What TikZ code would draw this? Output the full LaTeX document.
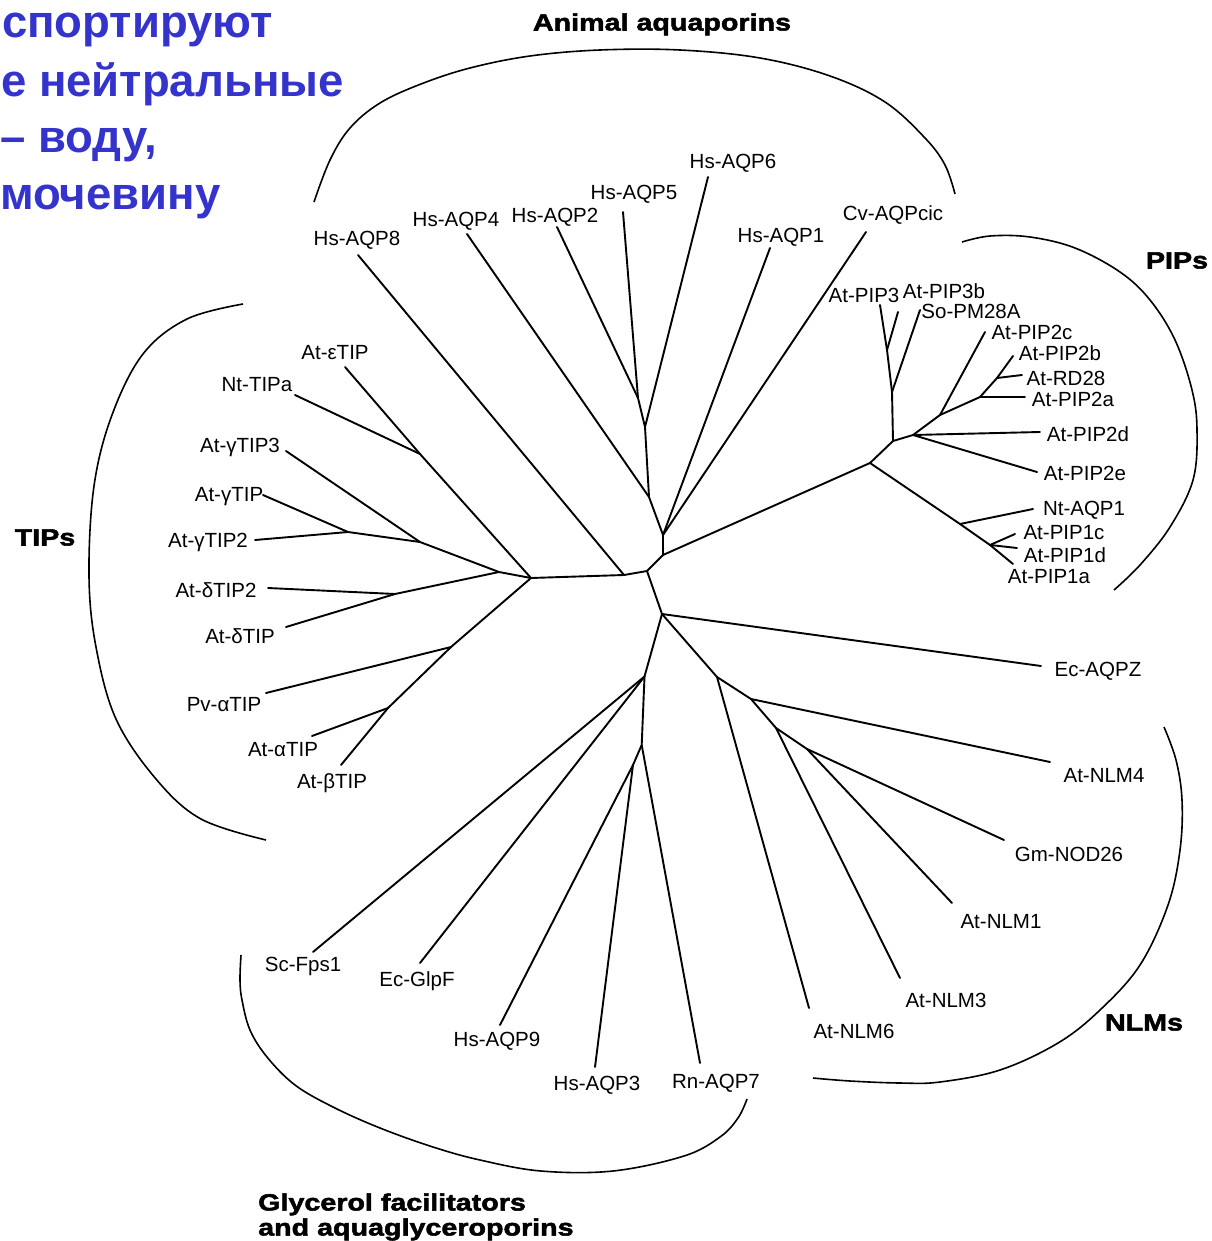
\documentclass[tikz,border=0pt]{standalone}
\usepackage{fontspec}
\setmainfont{Liberation Sans}
\newfontfamily\heavyfont{Liberation Sans Bold}[FakeStretch=1.22,FakeBold=2.2]
\newfontfamily\titlefont{Liberation Sans Bold}
\definecolor{titleblue}{RGB}{52,52,205}
\begin{document}
\begin{tikzpicture}[x=1pt,y=-1pt,
  br/.style={line width=1.9pt, line cap=round, line join=round},
  bracket/.style={line width=1.6pt},
  lab/.style={inner sep=0pt, text height=14.7pt, text depth=0pt, font=\fontsize{20.5}{24}\selectfont},
  grp/.style={inner sep=0pt, text height=17pt, text depth=0pt, font=\heavyfont\fontsize{23.5}{28}\selectfont},
  ttl/.style={inner sep=0pt, anchor=base west, text=titleblue, font=\titlefont\fontsize{45.5}{54}\selectfont}]
\useasboundingbox (0,0) rectangle (1211,1241);
\fill[white] (0,0) rectangle (1211,1241);

% title
\node[ttl] (t1) at (2,38) {спортируют};
\node[ttl] (t2) at (1,97) {е нейтральные};
\node[ttl] (t3) at (0,153) {– воду,};
\node[ttl] (t4) at (0,210) {мочевину};

% group labels
\node[grp] (gAnimal) at (662,22) {Animal aquaporins};
\node[grp] (gPIP) at (1177,260) {PIPs};
\node[grp] (gTIP) at (45,537) {TIPs};
\node[grp] (gNLM) at (1144,1022) {NLMs};
\node[grp, anchor=west] (gGly1) at (258,1202) {Glycerol facilitators};
\node[grp, anchor=west] (gGly2) at (258,1227) {and aquaglyceroporins};

% brackets
\draw[bracket] plot[smooth, tension=0.6] coordinates {(314,202) (330,160) (350,128) (380,103) (421,84) (470,68) (530,56) (600,50) (680,50) (760,58) (830,76) (885,102) (925,138) (945,165) (955,194)};
\draw[bracket] plot[smooth, tension=0.6] coordinates {(243,304) (187,319) (143,354) (112,415) (94,486) (89,576) (96,647) (116,719) (156,779) (201,819) (266,840)};
\draw[bracket] plot[smooth, tension=0.6] coordinates {(962,242) (990,236) (1030,237) (1075,248) (1120,272) (1150,300) (1175,340) (1192,390) (1197,430) (1193,480) (1170,527) (1140,565) (1114,590)};
\draw[bracket] plot[smooth, tension=0.6] coordinates {(1164,727) (1176,760) (1182,800) (1180,850) (1168,905) (1140,965) (1100,1010) (1058,1043) (1000,1070) (940,1082) (900,1083) (850,1081) (813,1078)};
\draw[bracket] plot[smooth, tension=0.6] coordinates {(241,955) (240,980) (242,1000) (250,1030) (267,1057) (295,1085) (333,1107) (380,1128) (433,1147) (480,1160) (541,1171) (613,1171) (684,1156) (720,1137) (738,1118) (747,1099)};

% internal nodes
\coordinate (C0) at (624,575);
\coordinate (C1) at (647,571);
\coordinate (C2) at (663,555);
\coordinate (N0) at (662,614);
\coordinate (A0) at (663,535);
\coordinate (A1) at (649,497);
\coordinate (A4) at (645,427);
\coordinate (A3) at (638,398);
\coordinate (P0) at (870,463);
\coordinate (P1) at (893,441);
\coordinate (P2) at (892,392);
\coordinate (P3) at (913,435);
\coordinate (P4) at (940,415);
\coordinate (P5) at (980,397);
\coordinate (P6) at (997,378);
\coordinate (P7) at (887,350);
\coordinate (Q0) at (960,524);
\coordinate (Q1) at (990,545);
\coordinate (T0) at (531,578);
\coordinate (T1) at (420,454);
\coordinate (T2) at (499,572);
\coordinate (T3) at (348,532);
\coordinate (T4) at (420,542);
\coordinate (T5) at (395,594);
\coordinate (T6) at (451,647);
\coordinate (T7) at (388,708);
\coordinate (G0) at (644.5,676.5);
\coordinate (G1) at (641.7,745);
\coordinate (G2) at (633,765);
\coordinate (M0) at (717,677);
\coordinate (M1) at (751,699);
\coordinate (M2) at (776,728);
\coordinate (M3) at (807,749);

% tips
\coordinate (xAQP8) at (358,255);
\coordinate (xAQP4) at (467,234);
\coordinate (xAQP2) at (557,227);
\coordinate (xAQP5) at (623,212);
\coordinate (xAQP6) at (708,177);
\coordinate (xAQP1) at (770,248);
\coordinate (xCv) at (866,232);
\coordinate (xPIP3) at (880,305);
\coordinate (xPIP3b) at (898,312);
\coordinate (xSo) at (920,310);
\coordinate (xPIP2c) at (985,332);
\coordinate (xPIP2b) at (1013,356);
\coordinate (xRD28) at (1022,375);
\coordinate (xPIP2a) at (1025,397);
\coordinate (xPIP2d) at (1040,432);
\coordinate (xPIP2e) at (1037,472);
\coordinate (xNtAQP1) at (1033,509);
\coordinate (xPIP1c) at (1015,534);
\coordinate (xPIP1d) at (1017,548);
\coordinate (xPIP1a) at (1013,564);
\coordinate (xEcZ) at (1041,666);
\coordinate (xNLM4) at (1050,762);
\coordinate (xNOD) at (1004,840);
\coordinate (xNLM1) at (952,903);
\coordinate (xNLM3) at (900,978);
\coordinate (xNLM6) at (809,1008);
\coordinate (xAQP7) at (700,1063);
\coordinate (xAQP3) at (595,1067);
\coordinate (xAQP9) at (500,1025);
\coordinate (xGlpF) at (420,963);
\coordinate (xFps) at (313,952);
\coordinate (xeTIP) at (345,367);
\coordinate (xTIPa) at (295,395);
\coordinate (xgTIP3) at (286,451);
\coordinate (xgTIP) at (263,495);
\coordinate (xgTIP2) at (255,540);
\coordinate (xdTIP2) at (268,588);
\coordinate (xdTIP) at (286,627);
\coordinate (xPvTIP) at (266,693);
\coordinate (xaTIP) at (312,736);
\coordinate (xbTIP) at (341,765);

% branches
\draw[br] (T0) -- (C0) -- (C1) -- (C2) -- (A0);
\draw[br] (C1) -- (N0);
\draw[br] (C0) -- (xAQP8);
\draw[br] (A0) -- (A1) -- (A4) -- (A3) -- (xAQP2);
\draw[br] (A3) -- (xAQP5);
\draw[br] (A4) -- (xAQP6);
\draw[br] (A1) -- (xAQP4);
\draw[br] (A0) -- (xAQP1);
\draw[br] (A0) -- (xCv);
% PIPs
\draw[br] (C2) -- (P0) -- (P1) -- (P2) -- (P7) -- (xPIP3);
\draw[br] (P7) -- (xPIP3b);
\draw[br] (P2) -- (xSo);
\draw[br] (P1) -- (P3) -- (xPIP2d);
\draw[br] (P3) -- (xPIP2e);
\draw[br] (P3) -- (P4) -- (xPIP2c);
\draw[br] (P4) -- (P5) -- (xPIP2a);
\draw[br] (P5) -- (P6) -- (xPIP2b);
\draw[br] (P6) -- (xRD28);
\draw[br] (P0) -- (Q0) -- (Q1) -- (xPIP1a);
\draw[br] (Q0) -- (xNtAQP1);
\draw[br] (Q1) -- (xPIP1c);
\draw[br] (Q1) -- (xPIP1d);
% TIPs
\draw[br] (T0) -- (T1) -- (xeTIP);
\draw[br] (T1) -- (xTIPa);
\draw[br] (T0) -- (T2) -- (T4) -- (xgTIP3);
\draw[br] (T4) -- (T3) -- (xgTIP);
\draw[br] (T3) -- (xgTIP2);
\draw[br] (T2) -- (T5) -- (xdTIP2);
\draw[br] (T5) -- (xdTIP);
\draw[br] (T0) -- (T6) -- (T7) -- (xbTIP);
\draw[br] (T6) -- (xPvTIP);
\draw[br] (T7) -- (xaTIP);
% NLMs, Ec-AQPZ
\draw[br] (N0) -- (xEcZ);
\draw[br] (N0) -- (M0) -- (xNLM6);
\draw[br] (M0) -- (M1) -- (xNLM4);
\draw[br] (M1) -- (M2) -- (xNLM3);
\draw[br] (M2) -- (M3) -- (xNOD);
\draw[br] (M3) -- (xNLM1);
% glycerol
\draw[br] (N0) -- (G0) -- (xFps);
\draw[br] (G0) -- (xGlpF);
\draw[br] (G0) -- (G1) -- (xAQP7);
\draw[br] (G1) -- (G2) -- (xAQP9);
\draw[br] (G2) -- (xAQP3);

% labels
\node[lab] (lAQP8) at (357,238) {Hs-AQP8};
\node[lab] (lAQP4) at (456,219) {Hs-AQP4};
\node[lab] (lAQP2) at (555,215) {Hs-AQP2};
\node[lab] (lAQP5) at (634,192) {Hs-AQP5};
\node[lab] (lAQP6) at (733,161) {Hs-AQP6};
\node[lab] (lAQP1) at (781,235) {Hs-AQP1};
\node[lab] (lCv) at (893,213) {Cv-AQPcic};
\node[lab] (lPIP3) at (864,295) {At-PIP3};
\node[lab] (lPIP3b) at (944,291) {At-PIP3b};
\node[lab] (lSo) at (971,311) {So-PM28A};
\node[lab] (lPIP2c) at (1032,332) {At-PIP2c};
\node[lab] (lPIP2b) at (1060,353) {At-PIP2b};
\node[lab] (lRD28) at (1066,378) {At-RD28};
\node[lab] (lPIP2a) at (1073,399) {At-PIP2a};
\node[lab] (lPIP2d) at (1088,434) {At-PIP2d};
\node[lab] (lPIP2e) at (1085,473) {At-PIP2e};
\node[lab] (lNtAQP1) at (1084,508) {Nt-AQP1};
\node[lab] (lPIP1c) at (1064,532) {At-PIP1c};
\node[lab] (lPIP1d) at (1065,555) {At-PIP1d};
\node[lab] (lPIP1a) at (1049,576) {At-PIP1a};
\node[lab] (lEcZ) at (1098,669) {Ec-AQPZ};
\node[lab] (lNLM4) at (1104,775) {At-NLM4};
\node[lab] (lNOD) at (1069,854) {Gm-NOD26};
\node[lab] (lNLM1) at (1001,921) {At-NLM1};
\node[lab] (lNLM3) at (946,1000) {At-NLM3};
\node[lab] (lNLM6) at (854,1031) {At-NLM6};
\node[lab] (lAQP7) at (716,1081) {Rn-AQP7};
\node[lab] (lAQP3) at (597,1083) {Hs-AQP3};
\node[lab] (lAQP9) at (497,1039) {Hs-AQP9};
\node[lab] (lGlpF) at (417,979) {Ec-GlpF};
\node[lab] (lFps) at (303,964) {Sc-Fps1};
\node[lab] (leTIP) at (335,352) {At-εTIP};
\node[lab] (lTIPa) at (257,384) {Nt-TIPa};
\node[lab] (lgTIP3) at (240,445) {At-γTIP3};
\node[lab] (lgTIP) at (229,494) {At-γTIP};
\node[lab] (lgTIP2) at (208,540) {At-γTIP2};
\node[lab] (ldTIP2) at (216,590) {At-δTIP2};
\node[lab] (ldTIP) at (240,636) {At-δTIP};
\node[lab] (lPvTIP) at (224,704) {Pv-αTIP};
\node[lab] (laTIP) at (283,749) {At-αTIP};
\node[lab] (lbTIP) at (332,781) {At-βTIP};
\end{tikzpicture}
\end{document}
